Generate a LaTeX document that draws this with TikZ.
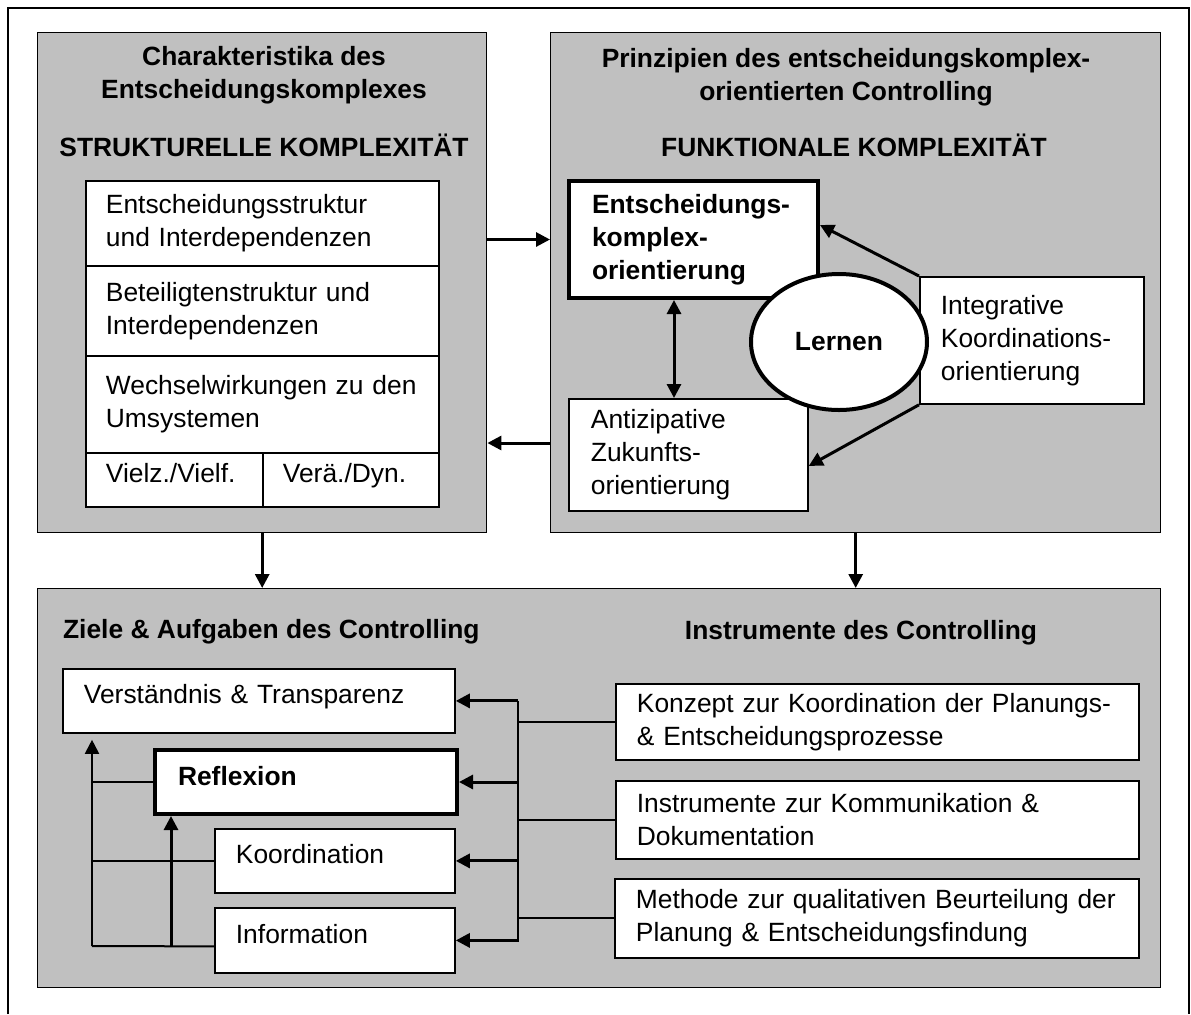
\documentclass[tikz,border=0pt]{standalone}
\usepackage{fontspec}
\setmainfont{Liberation Sans}
\usepackage{tikz}
\usetikzlibrary{arrows.meta,shapes.geometric}
\definecolor{panelgray}{RGB}{192,192,192}
\newcommand{\diafont}{\fontsize{13.2pt}{16.5pt}\selectfont}

\begin{document}
\begin{tikzpicture}[x=0.5pt, y=-0.5pt, >={Triangle[length=7pt,width=7pt]},
    every node/.style={font=\diafont},
    panel/.style={draw, fill=panelgray, line width=0.7pt, anchor=north west, inner sep=0pt},
    cell/.style={draw, fill=white, line width=0.9pt, anchor=north west, align=left, inner ysep=0pt},
    oneline/.style={text height=0.75em, text depth=0.45em},
    heavy/.style={line width=2pt},
    title/.style={font=\diafont\bfseries, align=center},
    link/.style={line width=1pt},
    arr/.style={->, line width=1.5pt}]
    \useasboundingbox (0,0) rectangle (1191,1014);
    \draw[line width=0.6pt] (8,1014) -- (8,8) -- (1189,8) -- (1189,1014);

    \node[panel, minimum width=224.5pt, minimum height=250pt] (lpanel) at (37,32) {};
    \node[panel, minimum width=305pt, minimum height=250pt] (rpanel) at (550,32) {};
    \node[panel, minimum width=561.5pt, minimum height=199.5pt] (bpanel) at (37,588) {};

    \node[title] (ltitle) at (264,75) {Charakteristika des\\Entscheidungskomplexes};
    \node[title] (lhead) at (264,145) {STRUKTURELLE KOMPLEXITÄT};
    \node[title] (rtitle) at (846,77) {Prinzipien des entscheidungskomplex-\\orientierten Controlling};
    \node[title] (rhead) at (854,145) {FUNKTIONALE KOMPLEXITÄT};
    \node[title, anchor=west] (zieltitle) at (56,632) {Ziele \& Aufgaben des Controlling};
    \node[title] (insttitle) at (861,633) {Instrumente des Controlling};

    \node[cell, minimum width=176.5pt, minimum height=42.5pt, text width=156.5pt, inner xsep=10pt] (rowa) at (85,180) {Entscheidungsstruktur\\und Interdependenzen};
    \node[cell, minimum width=176.5pt, minimum height=45pt, text width=156.5pt, inner xsep=10pt] (rowb) at (85,265) {Beteiligtenstruktur und\\Interdependenzen};
    \node[cell, minimum width=176.5pt, minimum height=48.5pt, text width=156.5pt, inner xsep=10pt] (rowc) at (85,355) {Wechselwirkungen zu den\\Umsystemen};
    \node[cell, oneline, minimum width=88.5pt, minimum height=27pt, text width=68.5pt, inner xsep=10pt] (rowd) at (85,452) {Vielz./Vielf.};
    \node[cell, oneline, minimum width=88pt, minimum height=27pt, text width=68pt, inner xsep=10pt] (rowe) at (262,452) {Verä./Dyn.};

    \node[cell, heavy, font=\diafont\bfseries, minimum width=124.5pt, minimum height=58.5pt, text width=101.5pt, inner xsep=11.5pt] (ent) at (567,179) {Entscheidungs-\\komplex-\\orientierung};
    \node[cell, minimum width=119.5pt, minimum height=56pt, text width=97.5pt, inner xsep=11pt] (ant) at (568,398) {Antizipative\\Zukunfts-\\orientierung};
    \node[cell, minimum width=112pt, minimum height=63.5pt, text width=91pt, inner xsep=10.5pt] (integ) at (919,276) {Integrative\\Koordinations-\\orientierung};
    \node[draw, heavy, ellipse, fill=white, minimum width=88pt, minimum height=68pt, font=\diafont\bfseries] (lern) at (839,342) {Lernen};

    \draw[arr] (lpanel.east |- ent) -- (rpanel.west |- ent);
    \draw[arr] (rpanel.west |- 0,443) -- (lpanel.east |- 0,443);
    \draw[arr] (lpanel.south) -- (lpanel.south |- bpanel.north);
    \draw[arr] (rpanel.south) -- (rpanel.south |- bpanel.north);
    \draw[arr, <->] ([xshift=-9.75pt]ent.south) -- ([xshift=-9.75pt]ent.south |- ant.north);
    \draw[arr] (integ.north west) -- ([yshift=7.25pt]ent.east);
    \draw[arr] (integ.south west) -- ([yshift=-5.5pt]ant.east);

    \node[cell, oneline, minimum width=196pt, minimum height=32pt, text width=175pt, inner xsep=10.5pt] (ver) at (62,668) {Verständnis \& Transparenz};
    \node[cell, oneline, heavy, font=\diafont\bfseries, minimum width=151pt, minimum height=32pt, text width=128pt, inner xsep=11.5pt] (refl) at (153,748) {Reflexion};
    \node[cell, oneline, minimum width=120pt, minimum height=32pt, text width=99pt, inner xsep=10.5pt] (koo) at (214,828) {Koordination};
    \node[cell, oneline, minimum width=120pt, minimum height=32.5pt, text width=99pt, inner xsep=10.5pt] (inf) at (214,907) {Information};

    \node[cell, minimum width=261.5pt, minimum height=38pt, text width=240.5pt, inner xsep=10.5pt] (kon) at (615,683) {Konzept zur Koordination der Planungs-\\\& Entscheidungsprozesse};
    \node[cell, minimum width=261.5pt, minimum height=39pt, text width=240.5pt, inner xsep=10.5pt] (kom) at (615,780) {Instrumente zur Kommunikation \&\\Dokumentation};
    \node[cell, minimum width=262pt, minimum height=39.5pt, text width=241pt, inner xsep=10.5pt] (met) at (614,878) {Methode zur qualitativen Beurteilung der\\Planung \& Entscheidungsfindung};

    \coordinate (bus) at (518,0);
    \draw[link] (bus |- ver.east) -- (bus |- 0,942);
    \foreach \t in {ver,refl,koo,inf}
      \draw[arr] (bus |- \t.east) -- (\t.east);
    \foreach \s in {kon,kom,met}
      \draw[link] (\s.west) -- (bus |- \s.west);

    \coordinate (fa) at (92,946);
    \coordinate (fb) at (171,946);
    \draw[link] ([yshift=-3pt]inf.west) -- (fa);
    \draw[link, ->, shorten >=3pt] (fa) -- (fa |- ver.south);
    \draw[arr] (fb) -- (fb |- refl.south);
    \draw[link] (refl.west) -- (fa |- refl.west);
    \draw[link] (koo.west) -- (fa |- koo.west);
  \end{tikzpicture}
\end{document}
